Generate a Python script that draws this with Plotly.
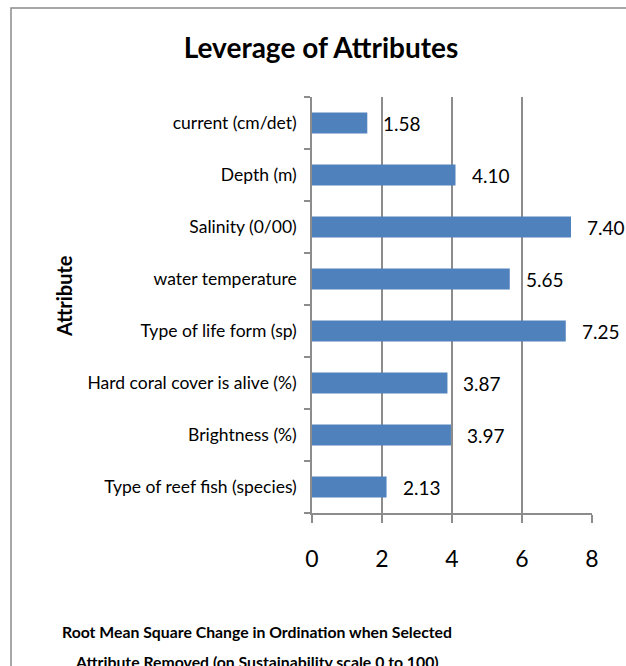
import plotly.graph_objects as go

# Attribute leverage values (RMS change in ordination)
attributes = [
    "Type of reef fish (species)",
    "Brightness (%)",
    "Hard coral cover is alive (%)",
    "Type of life form (sp)",
    "water temperature",
    "Salinity (0/00)",
    "Depth (m)",
    "current (cm/det)",
]
leverage = [2.13, 3.97, 3.87, 7.25, 5.65, 7.40, 4.10, 1.58]
x_ticks = [0, 2, 4, 6, 8]

FONT = "Lato, 'Open Sans', sans-serif"
GRID = "#8c8c8c"

W, H = 626, 666
L, R, T, B = 312, 34, 97, 153
pw, ph = W - L - R, H - T - B

fig = go.Figure(
    go.Bar(
        x=leverage,
        y=attributes,
        orientation="h",
        marker=dict(color="#4F81BD", line=dict(width=0)),
        width=0.4,
    )
)

# value labels to the right of each bar
for a, v in zip(attributes, leverage):
    fig.add_annotation(
        x=v, y=a, text=f"{v:.2f}", showarrow=False,
        xanchor="left", xshift=14, yshift=0,
        font=dict(family=FONT, size=19, color="#000"),
    )

# outer frame of the chart
fig.add_shape(
    type="rect", xref="paper", yref="paper",
    x0=(11 - L) / pw, x1=(W + 20 - L) / pw,
    y0=-(H + 20 - T - ph) / ph, y1=(T + ph - 8) / ph,
    line=dict(color="#8a8a8a", width=1.5), layer="below",
)

fig.add_annotation(
    text="<b>Root Mean Square Change in Ordination when Selected</b>",
    xref="paper", yref="paper", x=(257 - L) / pw, y=-(631 - T - ph) / ph,
    showarrow=False, xanchor="center", yanchor="middle",
    font=dict(family=FONT, size=15.8, color="#000"),
)
fig.add_annotation(
    text="<b>Attribute Removed (on Sustainability scale 0 to 100)</b>",
    xref="paper", yref="paper", x=(257 - L) / pw, y=-(661 - T - ph) / ph,
    showarrow=False, xanchor="center", yanchor="middle",
    font=dict(family=FONT, size=15.8, color="#000"),
)
fig.add_annotation(
    text="<b>Attribute</b>",
    xref="paper", yref="paper", x=(64 - L) / pw, y=(T + ph - 296) / ph,
    showarrow=False, textangle=-90, xanchor="center", yanchor="middle",
    font=dict(family=FONT, size=20, color="#000"),
)

fig.update_layout(
    width=W, height=H,
    margin=dict(l=L, r=R, t=T, b=B),
    paper_bgcolor="white", plot_bgcolor="white",
    showlegend=False,
    title=dict(
        text="<b>Leverage of Attributes</b>",
        x=(321) / W, xanchor="center", y=1 - 48 / H, yanchor="middle",
        font=dict(family=FONT, size=28, color="#000"),
    ),
    xaxis=dict(
        range=[0, 8], tickvals=x_ticks, ticktext=[str(t) for t in x_ticks],
        showgrid=True, gridcolor=GRID, gridwidth=1.5,
        zeroline=False, showline=True, linecolor=GRID, linewidth=1.5,
        ticks="outside", ticklen=8, tickcolor=GRID, tickwidth=1.5,
        ticklabelstandoff=17,
        tickfont=dict(family=FONT, size=23, color="#000"),
    ),
    yaxis=dict(
        categoryorder="array", categoryarray=attributes,
        tickson="boundaries", ticks="outside", ticklen=6,
        tickcolor=GRID, tickwidth=1.5,
        showline=True, linecolor=GRID, linewidth=1.5,
        showgrid=False, zeroline=False,
        ticklabelstandoff=10,
        tickfont=dict(family=FONT, size=17.5, color="#000"),
    ),
)

fig.write_html("out.html")
